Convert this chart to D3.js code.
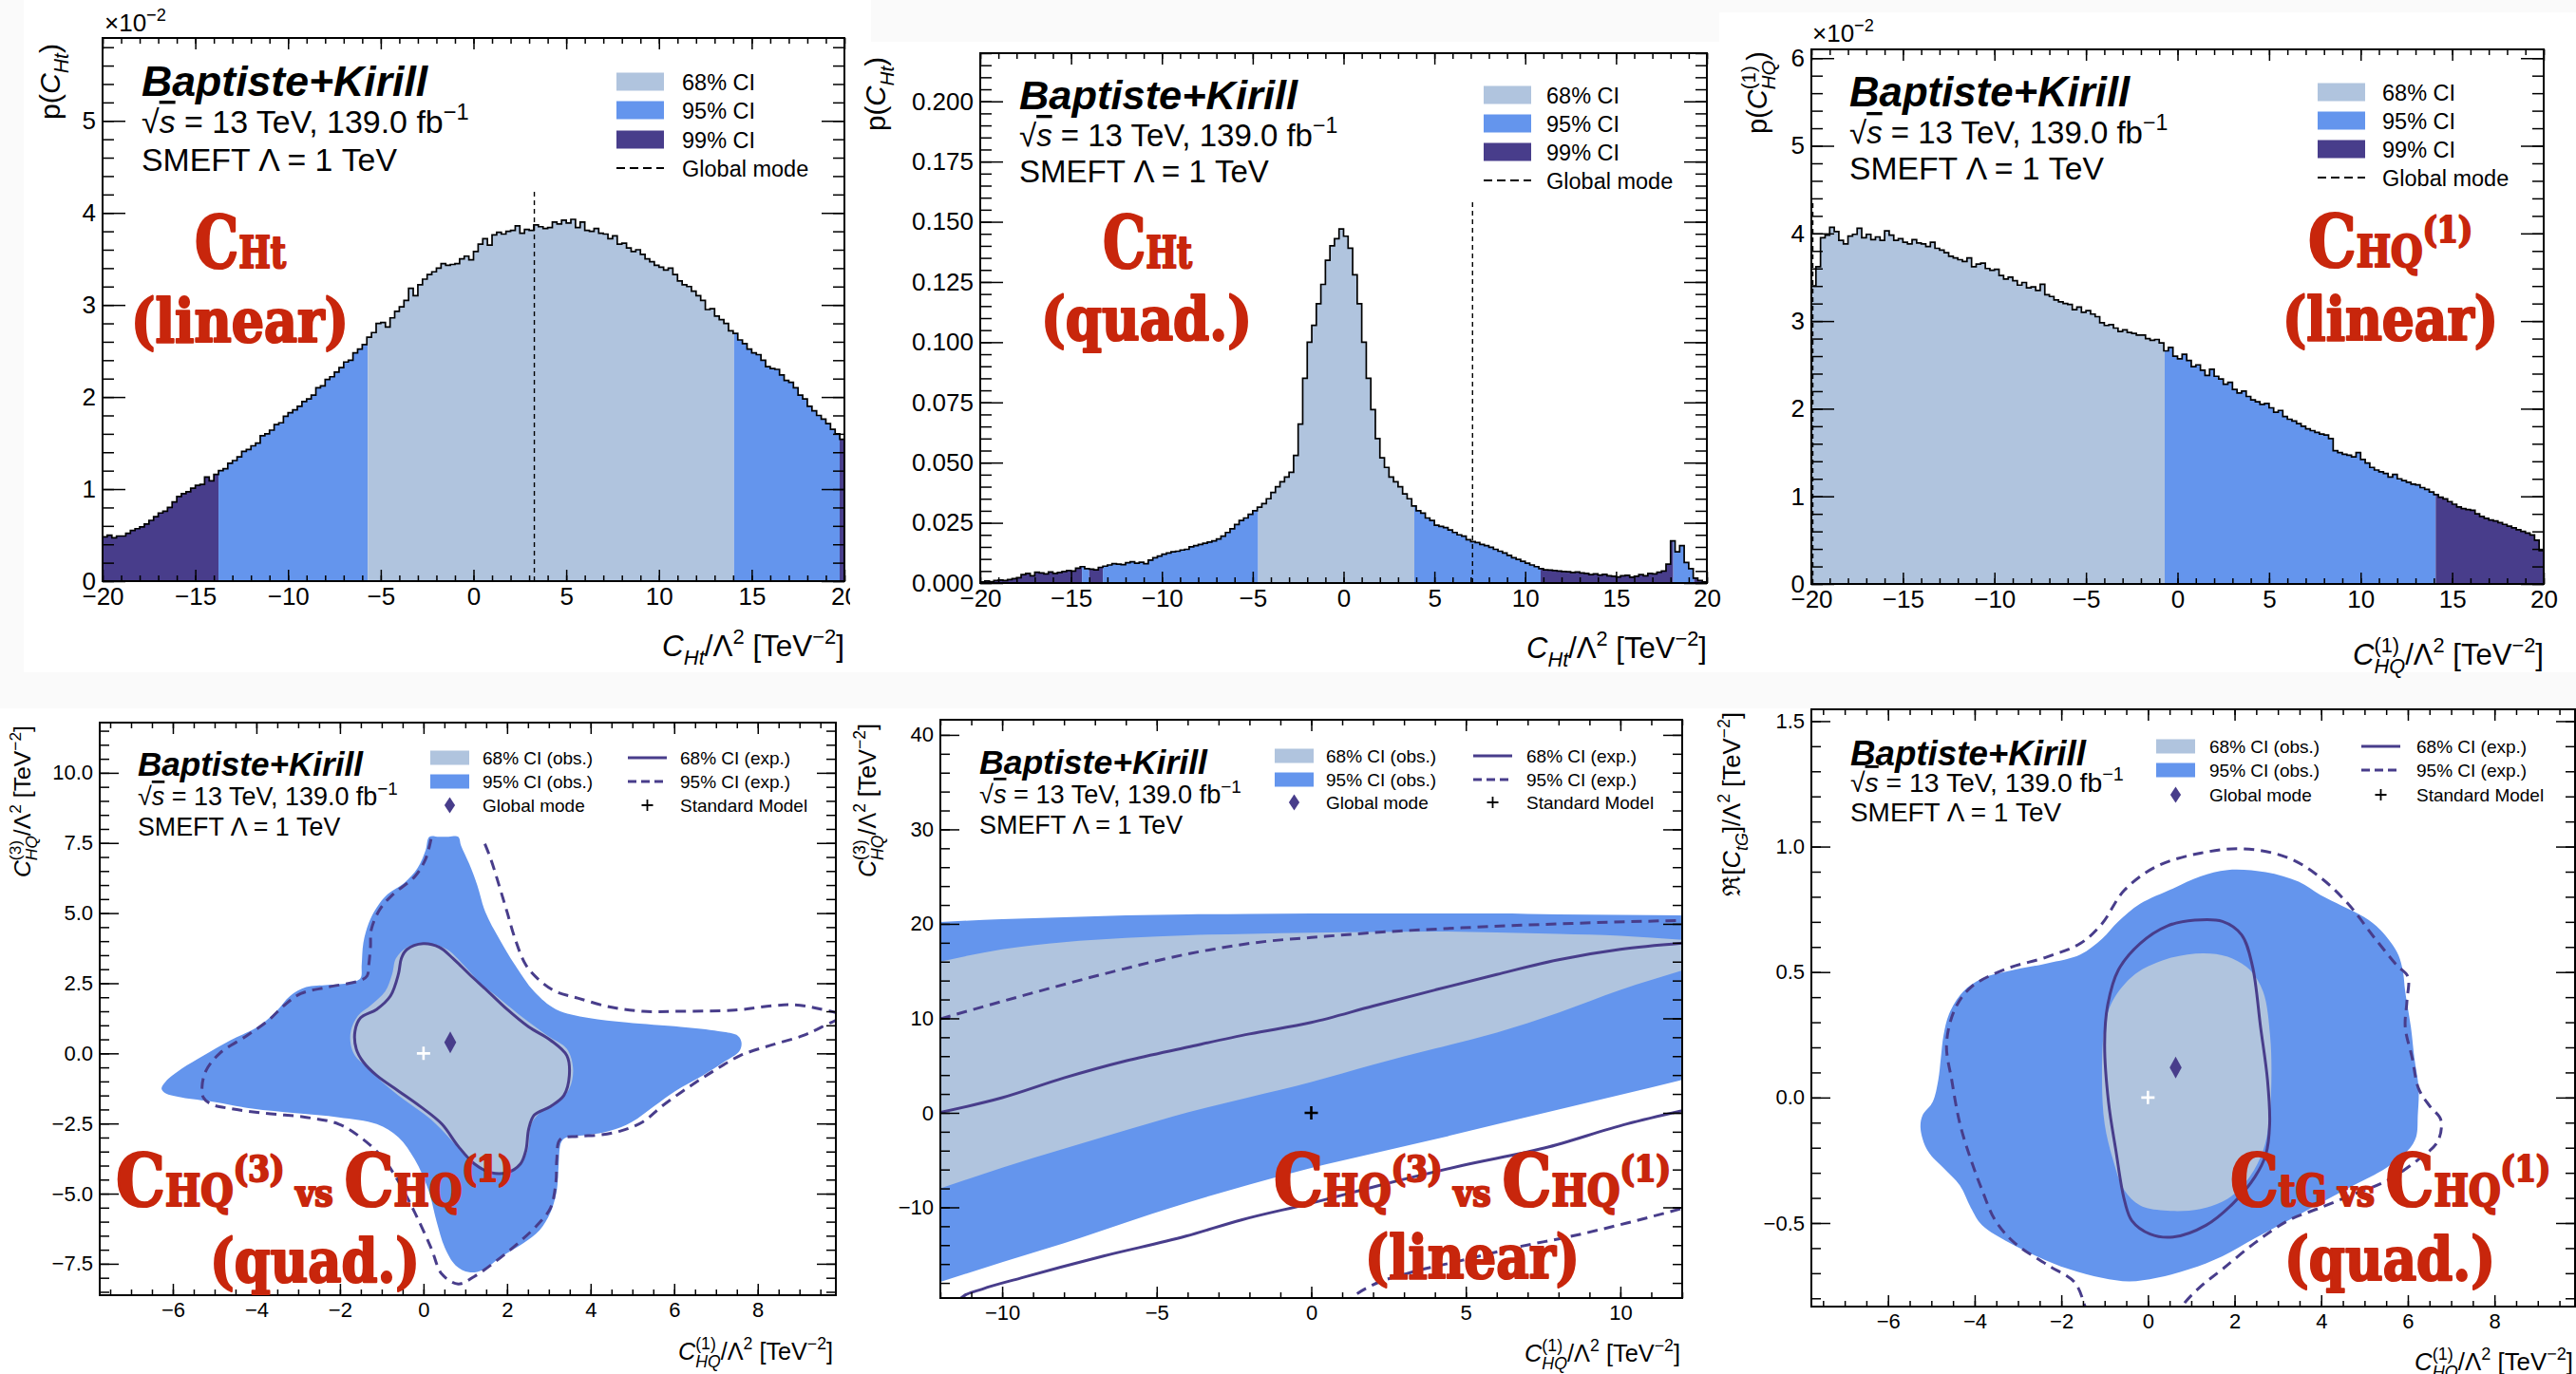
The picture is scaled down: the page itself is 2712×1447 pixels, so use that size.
<!DOCTYPE html>
<html><head><meta charset="utf-8">
<script src="https://cdn.jsdelivr.net/npm/d3@7"></script>
<style>
body{margin:0;background:#fff}
svg text{font-family:'Liberation Sans',Arial,Helvetica,sans-serif;fill:#000}
</style>
</head><body><script>
const W = 2712, H = 1447;
const C68 = "#b0c4de", C95 = "#6495ed", C99 = "#483d8b", LINE = "#483d8b", RED = "#c8260c";
const ciColor = {68: C68, 95: C95, 99: C99};

// ---- 1D posteriors: 0.25-wide bins from -20 to 20 ----
const binLo = -20, binW = 0.25;
// C_Ht (linear), in units of 1e-2
const chtLinear = [
  0.48,0.50,0.47,0.49, 0.49,0.52,0.55,0.57, 0.59,0.62,0.66,0.70, 0.74,0.76,0.80,0.86,
  0.92,0.95,0.97,1.01, 1.04,1.05,1.13,1.09, 1.16,1.20,1.22,1.28, 1.31,1.35,1.41,1.43,
  1.47,1.50,1.58,1.60, 1.64,1.70,1.72,1.79, 1.83,1.86,1.90,1.95, 1.98,2.02,2.10,2.12,
  2.19,2.22,2.27,2.32, 2.38,2.40,2.48,2.52, 2.57,2.65,2.70,2.80, 2.81,2.76,2.86,2.93,
  2.98,3.05,3.18,3.10, 3.22,3.28,3.33,3.36, 3.40,3.45,3.43,3.44, 3.45,3.50,3.53,3.49,
  3.58,3.66,3.72,3.65, 3.76,3.79,3.77,3.80, 3.81,3.86,3.78,3.82, 3.81,3.87,3.85,3.83,
  3.84,3.90,3.88,3.92, 3.89,3.93,3.84,3.90, 3.81,3.80,3.83,3.78, 3.77,3.72,3.75,3.66,
  3.67,3.62,3.58,3.60, 3.55,3.50,3.47,3.43, 3.41,3.38,3.40,3.33, 3.26,3.22,3.20,3.15,
  3.10,3.05,2.95,2.96, 2.88,2.84,2.80,2.72, 2.69,2.62,2.58,2.52, 2.48,2.46,2.40,2.33,
  2.31,2.30,2.24,2.18, 2.16,2.10,2.02,1.98, 1.90,1.85,1.80,1.76, 1.71,1.65,1.60,1.54
];
// C_Ht (quadratic)
const chtQuad = [
  0.0005,0.0008,0.0006,0.0010, 0.0012,0.0010,0.0014,0.0018, 0.0022,0.0035,0.0040,0.0030, 0.0045,0.0042,0.0038,0.0046,
  0.0040,0.0044,0.0048,0.0052, 0.0050,0.0062,0.0068,0.0060, 0.0058,0.0055,0.0065,0.0070, 0.0075,0.0080,0.0078,0.0076,
  0.0084,0.0088,0.0082,0.0086, 0.0080,0.0095,0.0105,0.0112, 0.0120,0.0125,0.0130,0.0132, 0.0137,0.0140,0.0150,0.0155,
  0.0160,0.0165,0.0170,0.0175, 0.0183,0.0195,0.0210,0.0225, 0.0243,0.0260,0.0270,0.0285, 0.0300,0.0315,0.0330,0.0350,
  0.0376,0.0400,0.0420,0.0440, 0.046,0.053,0.066,0.085, 0.100,0.107,0.116,0.124, 0.134,0.140,0.143,0.147,
  0.144,0.139,0.128,0.116, 0.100,0.085,0.072,0.060, 0.052,0.048,0.044,0.042, 0.040,0.037,0.035,0.032,
  0.030,0.029,0.027,0.026, 0.024,0.0235,0.023,0.022, 0.021,0.020,0.0195,0.018, 0.0172,0.0168,0.0160,0.0155,
  0.0148,0.0140,0.0132,0.0125, 0.0115,0.0105,0.0098,0.0090, 0.0082,0.0075,0.0068,0.0060, 0.0055,0.0054,0.0052,0.0050,
  0.0048,0.0047,0.0044,0.0046, 0.0042,0.0040,0.0035,0.0038, 0.0033,0.0036,0.0030,0.0028, 0.0025,0.0030,0.0032,0.0024,
  0.0028,0.0035,0.0030,0.0040, 0.0038,0.0045,0.0050,0.0078, 0.0175,0.0130,0.0155,0.0085, 0.0060,0.0020,0.0010,0.0005
];
// C_HQ^(1) (linear), in units of 1e-2
const chq1Linear = [
  3.40,3.62,3.95,3.98, 4.07,4.02,3.92,3.88, 3.97,3.99,4.06,3.95, 3.99,3.93,3.96,3.92,
  4.03,3.98,3.92,3.94, 3.90,3.88,3.93,3.89, 3.88,3.85,3.90,3.83, 3.81,3.78,3.74,3.72,
  3.70,3.68,3.72,3.62, 3.65,3.66,3.60,3.58, 3.59,3.52,3.48,3.50, 3.46,3.41,3.44,3.38,
  3.39,3.35,3.42,3.30, 3.28,3.24,3.22,3.20, 3.19,3.13,3.16,3.10, 3.12,3.08,3.05,2.98,
  2.95,2.96,2.92,2.88, 2.90,2.87,2.86,2.84, 2.84,2.80,2.78,2.79, 2.75,2.66,2.70,2.60,
  2.57,2.62,2.55,2.48, 2.50,2.44,2.38,2.45, 2.37,2.34,2.28,2.30, 2.22,2.18,2.20,2.14,
  2.10,2.08,2.05,2.06, 2.01,1.96,1.98,1.91, 1.88,1.86,1.83,1.80, 1.77,1.75,1.73,1.71,
  1.70,1.66,1.52,1.50, 1.48,1.47,1.45,1.50, 1.42,1.38,1.33,1.30, 1.28,1.26,1.22,1.25,
  1.20,1.18,1.16,1.14, 1.13,1.10,1.08,1.05, 1.02,0.99,0.97,0.94, 0.91,0.88,0.86,0.85,
  0.84,0.80,0.77,0.75, 0.73,0.72,0.70,0.68, 0.66,0.64,0.62,0.60, 0.58,0.56,0.50,0.38
];
// credible-interval segments [from, to, level]
const chtLinearCI = [[-20,-13.75,99],[-13.75,-5.7,95],[-5.7,14.05,68],[14.05,19.75,95],[19.75,20,99]];
const chtQuadCI = [[-20,-14.4,99],[-14.4,-14.0,95],[-14.0,-13.25,99],[-13.25,-4.7,95],[-4.7,3.9,68],
                   [3.9,10.85,95],[10.85,18.15,99],[18.15,19.3,95],[19.3,20,99]];
const chq1LinearCI = [[-20,-0.7,68],[-0.7,14.1,95],[14.1,20,99]];
// global mode [position, height of marker line]
const chtLinearMode = [3.28, 4.24];
const chtQuadMode = [7.1, 0.1586];
const chq1LinearMode = [-19.92, 4.38];

// tick values
const histXTicks = [-20,-15,-10,-5,0,5,10,15,20];
const chtLinearYTicks = [0,1,2,3,4,5];
const chtQuadYTicks = [0,0.025,0.05,0.075,0.1,0.125,0.15,0.175,0.2];
const chq1LinearYTicks = [0,1,2,3,4,5,6];
const quadXTicks = [-6,-4,-2,0,2,4,6,8];
const chq3QuadYTicks = [-7.5,-5,-2.5,0,2.5,5,7.5,10];
const linXTicks = [-10,-5,0,5,10];
const chq3LinYTicks = [-10,0,10,20,30,40];
const ctgYTicks = [-0.5,0,0.5,1,1.5];

// ---- 2D contours, C_HQ^(3) vs C_HQ^(1) (quadratic) ----
const chq3QuadObs95 = [[0.14,7.72],[0.05,7.24],[-0.14,6.61],[-0.47,6.06],[-0.86,5.67],[-1.12,5.20],[-1.31,4.65],[-1.44,3.94],
 [-1.48,3.15],[-1.51,2.68],[-1.77,2.52],[-2.29,2.44],[-2.81,2.36],[-3.19,2.05],[-3.52,1.50],[-3.97,0.94],[-4.62,0.47],
 [-5.27,-0.08],[-5.79,-0.55],[-6.18,-1.02],[-6.27,-1.26],[-6.18,-1.42],[-5.79,-1.57],[-5.01,-1.73],[-4.10,-1.97],[-3.06,-2.13],
 [-2.03,-2.28],[-1.12,-2.52],[-0.60,-2.99],[-0.21,-3.78],[0.12,-4.88],[0.31,-5.98],[0.51,-6.93],[0.77,-7.56],[1.09,-7.80],
 [1.42,-7.72],[1.87,-7.24],[2.39,-6.77],[2.78,-6.30],[3.04,-5.67],[3.19,-4.88],[3.23,-4.09],[3.30,-3.15],[3.43,-2.99],
 [3.95,-2.91],[4.47,-2.76],[4.99,-2.44],[5.51,-1.89],[6.03,-1.34],[6.68,-0.79],[7.19,-0.31],[7.56,0.08],[7.61,0.39],
 [7.52,0.63],[7.06,0.79],[6.16,0.94],[4.86,1.10],[3.95,1.26],[3.17,1.57],[2.65,2.20],[2.19,3.15],[1.81,4.09],[1.48,5.04],
 [1.29,5.98],[1.09,6.77],[0.90,7.40],[0.83,7.72],[0.60,7.72],[0.37,7.72]];
const chq3QuadObs68 = [[-0.08,3.91],[-0.40,3.78],[-0.66,3.39],[-0.75,2.83],[-0.92,2.20],[-1.25,1.73],[-1.57,1.34],[-1.74,0.79],
 [-1.74,0.31],[-1.64,-0.08],[-1.38,-0.47],[-0.99,-1.02],[-0.47,-1.65],[0.18,-2.36],[0.70,-3.15],[1.09,-3.78],[1.48,-4.17],
 [1.87,-4.25],[2.26,-4.09],[2.49,-3.46],[2.58,-2.52],[2.78,-2.13],[3.17,-1.81],[3.49,-1.26],[3.58,-0.55],[3.43,0.16],
 [2.97,0.63],[2.39,1.26],[1.87,1.89],[1.35,2.52],[0.96,3.15],[0.57,3.70],[0.18,3.91]];
const chq3QuadExp68 = [[-0.01,3.91],[-0.40,3.70],[-0.53,3.39],[-0.60,2.83],[-0.79,2.05],[-1.12,1.57],[-1.51,1.26],[-1.64,0.79],
 [-1.61,0.16],[-1.44,-0.31],[-1.12,-0.79],[-0.60,-1.34],[-0.08,-1.89],[0.44,-2.52],[0.83,-3.31],[1.22,-3.94],[1.61,-4.25],
 [2.00,-4.25],[2.32,-3.94],[2.45,-3.46],[2.52,-2.68],[2.65,-2.20],[3.04,-1.89],[3.36,-1.50],[3.49,-0.79],[3.43,-0.08],
 [3.04,0.47],[2.52,0.94],[2.00,1.57],[1.55,2.20],[1.09,2.83],[0.70,3.39],[0.38,3.78]];
const chq3QuadExp95 = [[0.18,7.64],[0.05,6.93],[-0.21,6.30],[-0.73,5.67],[-1.05,5.12],[-1.25,4.41],[-1.27,3.78],[-1.31,3.15],
 [-1.35,2.76],[-1.51,2.60],[-2.29,2.36],[-2.94,2.13],[-3.32,1.73],[-3.71,1.18],[-4.23,0.63],[-4.88,0.00],[-5.21,-0.63],
 [-5.30,-1.18],[-5.27,-1.57],[-5.08,-1.81],[-4.62,-1.97],[-3.84,-2.13],[-2.81,-2.28],[-2.03,-2.52],[-1.51,-2.99],[-0.99,-3.70],
 [-0.60,-4.57],[-0.21,-5.67],[0.18,-6.93],[0.44,-7.87],[0.83,-8.22],[1.22,-7.95],[1.74,-7.40],[2.26,-6.77],[2.71,-6.14],
 [3.04,-5.51],[3.17,-4.57],[3.19,-3.78],[3.27,-3.07],[3.69,-2.96],[4.21,-2.91],[4.73,-2.76],[5.25,-2.44],[5.70,-1.89],
 [6.29,-1.26],[6.94,-0.63],[7.58,-0.08],[8.36,0.31],[9.08,0.63],[9.53,0.94],[9.99,1.34],[9.40,1.61],[8.88,1.73],[8.36,1.70],
 [7.45,1.54],[6.16,1.50],[5.25,1.50],[4.47,1.65],[3.69,1.97],[3.17,2.20],[2.78,2.60],[2.45,3.15],[2.19,4.09],[2.00,5.04],
 [1.81,5.98],[1.61,6.93],[1.42,7.64]];
const chq3QuadMode = [0.64, 0.39];
const standardModel = [0, 0];

// ---- 2D bands, C_HQ^(3) vs C_HQ^(1) (linear) ----
const bandX = [-12,-10,-8,-6,-4,-2,0,2,4,6,8,10,12];
const linObs95Upper = [20.2,20.5,20.7,20.9,21.0,21.05,21.1,21.1,21.1,21.1,21.0,20.95,20.9];
const linObs95Lower = [-17.9,-15.8,-13.8,-11.6,-9.5,-7.6,-5.83,-4.3,-2.8,-1.2,0.35,1.9,3.5];
const linObs68Upper = [16.0,17.3,18.05,18.5,18.8,18.95,19.07,19.15,19.2,19.1,18.95,18.75,18.3];
const linObs68Lower = [-8.0,-5.8,-3.8,-1.85,0.05,1.65,3.26,5.1,6.8,8.5,10.6,13.0,15.06];
const linExp68Upper = [[-12,0.05],[-10,1.6],[-8,3.7],[-6,5.5],[-4,6.95],[-2,8.35],[0,9.56],[2,11.3],[4,13.0],[6,14.65],[8,16.2],[10,17.3],[12,17.95]];
const linExp68Lower = [[-11.55,-20.2],[-11.27,-19.44],[-10.64,-18.65],[-9.39,-17.48],[-6.72,-15.15],[-4.05,-13.05],[-2.26,-11.33],
 [0,-9.56],[2.19,-7.69],[4.87,-5.59],[7.54,-3.73],[10.21,-1.17],[12,0.23]];
const linExp95Upper = [[-12,9.95],[-9.39,12.35],[-6.72,14.69],[-4.05,16.78],[-1.37,18.18],[0,18.55],[2.19,19.11],[4.87,19.58],[8.43,20.05],[12,20.37]];
const linExp95Lower = [[1.05,-20.3],[1.30,-19.58],[2.01,-18.18],[3.08,-17.02],[4.87,-15.62],[6.65,-14.22],[8.43,-13.05],[10.21,-11.66],[12,-10.12]];

// ---- 2D contours, Re[C_tG] vs C_HQ^(1) (quadratic) ----
const ctgObs95 = [[1.84,0.907],[2.72,0.898],[3.48,0.860],[3.98,0.807],[4.49,0.763],[4.99,0.719],[5.37,0.667],[5.75,0.579],
 [5.88,0.509],[5.94,0.421],[6.07,0.281],[6.15,0.158],[6.25,0.035],[6.23,-0.070],[6.19,-0.158],[6.00,-0.211],[5.50,-0.281],
 [4.74,-0.351],[3.98,-0.421],[3.23,-0.491],[2.47,-0.561],[1.72,-0.632],[0.96,-0.684],[0.20,-0.719],[-0.43,-0.733],[-1.06,-0.719],
 [-1.82,-0.684],[-2.57,-0.632],[-3.20,-0.579],[-3.83,-0.509],[-4.09,-0.439],[-4.34,-0.351],[-4.72,-0.281],[-5.09,-0.211],
 [-5.25,-0.123],[-5.20,-0.070],[-4.97,-0.018],[-4.84,0.070],[-4.78,0.158],[-4.72,0.246],[-4.59,0.333],[-4.27,0.421],
 [-3.83,0.474],[-3.08,0.509],[-2.32,0.535],[-1.56,0.570],[-1.06,0.632],[-0.68,0.702],[-0.18,0.772],[0.58,0.833],[1.21,0.881]];
const ctgObs68 = [[1.27,0.575],[1.84,0.561],[2.35,0.509],[2.66,0.421],[2.82,0.246],[2.85,0.070],[2.79,-0.105],[2.66,-0.211],
 [2.35,-0.316],[1.84,-0.404],[1.21,-0.444],[0.45,-0.451],[-0.18,-0.430],[-0.55,-0.368],[-0.81,-0.246],[-1.00,-0.105],
 [-1.06,0.070],[-1.00,0.281],[-0.81,0.386],[-0.30,0.491],[0.45,0.553]];
const ctgExp68 = [[1.08,0.707],[1.72,0.702],[2.16,0.649],[2.41,0.526],[2.60,0.281],[2.76,0.070],[2.81,-0.105],[2.72,-0.228],
 [2.47,-0.316],[1.97,-0.421],[1.34,-0.509],[0.58,-0.556],[0.05,-0.544],[-0.37,-0.491],[-0.55,-0.404],[-0.74,-0.211],
 [-0.91,-0.018],[-1.00,0.211],[-0.93,0.368],[-0.68,0.509],[-0.18,0.614],[0.45,0.684]];
const ctgExp95 = [[-1.40,-0.86],[-1.46,-0.828],[-1.69,-0.737],[-2.32,-0.667],[-3.08,-0.579],[-3.52,-0.491],[-3.83,-0.368],[-4.09,-0.246],
 [-4.34,-0.105],[-4.53,0.070],[-4.65,0.211],[-4.46,0.351],[-4.09,0.439],[-3.33,0.509],[-2.32,0.561],[-1.56,0.614],
 [-1.06,0.693],[-0.55,0.825],[0.20,0.921],[1.21,0.974],[2.22,0.991],[3.23,0.956],[3.98,0.877],[4.62,0.772],[5.25,0.632],
 [5.75,0.526],[6.00,0.482],[5.98,0.386],[5.94,0.281],[6.10,0.158],[6.25,0.035],[6.51,-0.035],[6.76,-0.088],[6.69,-0.175],
 [6.25,-0.246],[5.50,-0.333],[4.74,-0.386],[3.98,-0.439],[3.23,-0.491],[2.47,-0.579],[1.72,-0.684],[1.21,-0.754],[0.81,-0.828],[0.75,-0.86]];
const ctgMode = [0.64, 0.12];

// ============================================================
const svg = d3.select("body").append("svg").attr("width", W).attr("height", H).style("display", "block");
const defs = svg.append("defs");

// faint separators between the six sub-figures
svg.append("rect").attr("x", 0).attr("y", 708).attr("width", W).attr("height", 38).attr("fill", "#fafafa");
svg.append("rect").attr("x", 0).attr("y", 0).attr("width", 25).attr("height", 708).attr("fill", "#fafafa");
svg.append("rect").attr("x", 917).attr("y", 0).attr("width", 893).attr("height", 44).attr("fill", "#fafafa");
svg.append("rect").attr("x", 1810).attr("y", 0).attr("width", 902).attr("height", 13).attr("fill", "#fafafa");

// text with italic / sub / sup / stacked pieces
function rich(text, segs, size) {
  let off = 0, prev = null;
  segs.forEach(s => {
    const sc = s.p ? (s.sc || 0.7) : 1;
    const target = s.p === "sub" ? 0.3 * size : s.p === "sup" ? -0.42 * size : 0;
    const ts = text.append("tspan").text(s.t).attr("font-size", size * sc).attr("dy", target - off);
    if (s.i) ts.attr("font-style", "italic");
    if (s.ol) ts.style("text-decoration", "overline");
    if (s.stack && prev) ts.attr("dx", -prev.node().getComputedTextLength());
    off = target; prev = ts;
  });
  return text;
}
// build rich text, then rescale it so its rendered length equals `len`
function fitRich(text, segs, size, len) {
  rich(text, segs, size);
  if (len) {
    const w = text.node().getBBox().width;
    if (w > 0 && Math.abs(len / w - 1) > 0.02) {
      text.selectAll("tspan").remove();
      rich(text, segs, size * len / w);
    }
  }
  return text;
}
function fitPlain(text, size, len) {
  text.attr("font-size", size);
  if (len) {
    const w = text.node().getBBox().width;
    if (w > 0) text.attr("font-size", size * len / w);
  }
  return text;
}

function frameAxes(g, x, y, o) {
  const [l, r] = x.range(), [b, t] = y.range();
  const mk = (fn, sc, vals, len, fmt, tr) => {
    const a = g.append("g").attr("transform", tr)
      .call(fn(sc).tickValues(vals).tickSize(-len).tickSizeOuter(0).tickPadding(o.pad)
        .tickFormat(fmt || (() => "")));
    a.select(".domain").remove();
    a.selectAll("line").attr("stroke", "#000").attr("stroke-width", 1.5);
    a.selectAll("text").attr("font-size", o.fs).attr("fill", "#000")
      .style("font-family", "'Liberation Sans',Arial,sans-serif");
    return a;
  };
  mk(d3.axisBottom, x, o.xMin, o.xLen / 2, null, `translate(0,${b})`);
  mk(d3.axisBottom, x, o.xMaj, o.xLen, o.xFmt, `translate(0,${b})`);
  mk(d3.axisTop, x, o.xMin, o.xLen / 2, null, `translate(0,${t})`);
  mk(d3.axisTop, x, o.xMaj, o.xLen, null, `translate(0,${t})`);
  mk(d3.axisLeft, y, o.yMin, o.yLen / 2, null, `translate(${l},0)`);
  mk(d3.axisLeft, y, o.yMaj, o.yLen, o.yFmt, `translate(${l},0)`);
  mk(d3.axisRight, y, o.yMin, o.yLen / 2, null, `translate(${r},0)`);
  mk(d3.axisRight, y, o.yMaj, o.yLen, null, `translate(${r},0)`);
  g.append("rect").attr("x", l).attr("y", t).attr("width", r - l).attr("height", b - t)
    .attr("fill", "none").attr("stroke", "#000").attr("stroke-width", 2);
}

// header block; lens = rendered widths of the three lines
function header(g, x0, ys, big, small, lens) {
  fitPlain(g.append("text").attr("x", x0).attr("y", ys[0])
    .attr("font-weight", "bold").attr("font-style", "italic").text("Baptiste+Kirill"), big, lens[0]);
  fitRich(g.append("text").attr("x", x0).attr("y", ys[1]), [
    {t: "\u221A"}, {t: "s", i: true, ol: true}, {t: " = 13 TeV, 139.0 fb"}, {t: "\u22121", p: "sup"}], small, lens[1]);
  fitPlain(g.append("text").attr("x", x0).attr("y", ys[2]).text("SMEFT \u039B = 1 TeV"), small, lens[2]);
}

function redLabel(g, x0, y0, segs, size, len) {
  const t = g.append("text").attr("x", x0).attr("y", y0)
    .attr("textLength", len).attr("lengthAdjust", "spacingAndGlyphs")
    .style("font-family", "'DejaVu Serif Condensed','DejaVu Serif',serif")
    .style("font-stretch", "condensed").attr("font-weight", "bold").style("fill", RED)
    .style("stroke", RED).style("stroke-width", 2.2).style("stroke-linejoin", "round");
  let off = 0;
  segs.forEach(s => {
    const target = s.up ? -s.up : 0;
    t.append("tspan").text(s.t).attr("font-size", s.s || size).attr("dy", target - off);
    off = target;
  });
}

// ---------------- histogram panels ----------------
function histPanel(c) {
  const g = svg.append("g");
  if (c.clip) {
    defs.append("clipPath").attr("id", c.id + "pc").append("rect")
      .attr("x", c.clip[0]).attr("y", c.clip[1]).attr("width", c.clip[2]).attr("height", c.clip[3]);
    g.attr("clip-path", `url(#${c.id}pc)`);
  }
  const x = d3.scaleLinear().domain([-20, 20]).range([c.l, c.r]);
  const y = d3.scaleLinear().domain([0, c.ymax]).range([c.b, c.t]);
  const pts = c.values.map((v, i) => [binLo + i * binW, v]);
  pts.push([binLo + c.values.length * binW, c.values[c.values.length - 1]]);
  const area = d3.area().curve(d3.curveStepAfter).x(d => x(d[0])).y0(y(0)).y1(d => y(d[1]));
  c.ci.forEach((s, k) => {
    const id = c.id + "ci" + k;
    defs.append("clipPath").attr("id", id).append("rect")
      .attr("x", x(s[0])).attr("y", c.t).attr("width", x(s[1]) - x(s[0])).attr("height", c.b - c.t);
    g.append("path").attr("d", area(pts)).attr("fill", ciColor[s[2]])
      .attr("clip-path", `url(#${id})`).attr("shape-rendering", "crispEdges");
  });
  const line = d3.line().curve(d3.curveStepAfter).x(d => x(d[0])).y(d => y(d[1]));
  g.append("path").attr("d", line(pts)).attr("fill", "none").attr("stroke", "#000").attr("stroke-width", 1.7);
  g.append("line").attr("x1", x(c.mode[0])).attr("x2", x(c.mode[0]))
    .attr("y1", y(0)).attr("y2", y(c.mode[1])).attr("stroke", "#000").attr("stroke-width", 1.4)
    .attr("stroke-dasharray", "5,4");

  frameAxes(g, x, y, {xMaj: histXTicks, xMin: d3.range(-20, 21, 1), xLen: 12, xFmt: d3.format("d"),
    yMaj: c.yTicks, yMin: c.yMinor, yLen: 24, yFmt: c.yFmt, pad: 7, fs: 26});

  if (c.exp) rich(g.append("text").attr("x", c.exp[0]).attr("y", c.exp[1]),
    [{t: "\u00D710"}, {t: "\u22122", p: "sup"}], 26);

  fitRich(g.append("text").attr("transform", `translate(${c.ytx},${c.yty}) rotate(-90)`).attr("text-anchor", "end"),
    c.ytitle, 28, c.ylen);
  fitRich(g.append("text").attr("x", c.r).attr("y", c.xty).attr("text-anchor", "end"), c.xtitle, 28, c.xlen);

  header(g, c.hx, c.hy, 44, 33, c.hlen);

  // legend
  const L = c.leg;
  ["68% CI", "95% CI", "99% CI"].forEach((lab, i) => {
    g.append("rect").attr("x", L.x).attr("y", L.rows[i] - 9.5).attr("width", 50).attr("height", 19)
      .attr("fill", [C68, C95, C99][i]);
    g.append("text").attr("x", L.tx).attr("y", L.rows[i] + 8.5).attr("font-size", 23.5).text(lab);
  });
  g.append("line").attr("x1", L.x).attr("x2", L.x + 50).attr("y1", L.rows[3]).attr("y2", L.rows[3])
    .attr("stroke", "#000").attr("stroke-width", 2.2).attr("stroke-dasharray", "9,5");
  g.append("text").attr("x", L.tx).attr("y", L.rows[3] + 8.5).attr("font-size", 23.5).text("Global mode");

  c.red.forEach(r => redLabel(g, r.x, r.y, r.segs, r.size, r.len));
}

const sub = (t) => ({t, p: "sub", i: true});
const supN = (t) => ({t, p: "sup"});
const stackSub = (t) => ({t, p: "sub", i: true, stack: true});
const titleHt = [{t: "C", i: true}, sub("Ht"), {t: "/\u039B"}, supN("2"), {t: " [TeV"}, supN("\u22122"), {t: "]"}];
const titleHQ1 = [{t: "C", i: true}, supN("(1)"), stackSub("HQ"), {t: "/\u039B"}, supN("2"), {t: " [TeV"}, supN("\u22122"), {t: "]"}];

histPanel({id: "h1", l: 108, r: 889, t: 40, b: 612, ymax: 5.9, values: chtLinear, ci: chtLinearCI, mode: chtLinearMode,
  yTicks: chtLinearYTicks, yMinor: d3.range(0, 30).map(i => i * 0.2), yFmt: d3.format("d"), clip: [0, 0, 895, 708],
  exp: [110, 33], ytx: 63, yty: 46, xty: 691, ylen: 80, xlen: 192,
  ytitle: [{t: "p("}, {t: "C", i: true}, sub("Ht"), {t: ")"}], xtitle: titleHt,
  hx: 149, hy: [101, 140, 180], hlen: [302, 345, 269], leg: {x: 649, tx: 718, rows: [86, 116, 147, 177]},
  red: [{x: 205, y: 282, size: 76, len: 96, segs: [{t: "C"}, {t: "Ht", s: 46}]},
        {x: 138, y: 360, size: 64, len: 229, segs: [{t: "(linear)"}]}]});

histPanel({id: "h2", l: 1032, r: 1797, t: 56, b: 614, ymax: 0.22, values: chtQuad, ci: chtQuadCI, mode: chtQuadMode,
  yTicks: chtQuadYTicks, yMinor: d3.range(0, 45).map(i => i * 0.005), yFmt: d3.format(".3f"),
  ytx: 932, yty: 60, xty: 693, ylen: 78, xlen: 190,
  ytitle: [{t: "p("}, {t: "C", i: true}, sub("Ht"), {t: ")"}], xtitle: titleHt,
  hx: 1073, hy: [115, 154, 192], hlen: [294, 338, 263], leg: {x: 1562, tx: 1628, rows: [100, 130, 160, 190]},
  red: [{x: 1161, y: 282, size: 76, len: 94, segs: [{t: "C"}, {t: "Ht", s: 46}]},
        {x: 1096, y: 358, size: 64, len: 222, segs: [{t: "(quad.)"}]}]});

histPanel({id: "h3", l: 1907, r: 2678, t: 52, b: 615, ymax: 6.1, values: chq1Linear, ci: chq1LinearCI, mode: chq1LinearMode,
  yTicks: chq1LinearYTicks, yMinor: d3.range(0, 31).map(i => i * 0.2), yFmt: d3.format("d"),
  exp: [1908, 44], ytx: 1860, yty: 54, xty: 700, ylen: 87, xlen: 201,
  ytitle: [{t: "p("}, {t: "C", i: true}, supN("(1)"), stackSub("HQ"), {t: ")"}], xtitle: titleHQ1,
  hx: 1947, hy: [112, 151, 189], hlen: [296, 341, 268], leg: {x: 2440, tx: 2508, rows: [97, 127, 157, 187]},
  red: [{x: 2430, y: 281, size: 76, len: 173, segs: [{t: "C"}, {t: "HQ", s: 46}, {t: "(1)", s: 38, up: 26}]},
        {x: 2403, y: 358, size: 64, len: 227, segs: [{t: "(linear)"}]}]});

// ---------------- 2D panels ----------------
function panel2D(c) {
  const g = svg.append("g");
  const x = d3.scaleLinear().domain(c.xd).range([c.l, c.r]);
  const y = d3.scaleLinear().domain(c.yd).range([c.b, c.t]);
  defs.append("clipPath").attr("id", c.id + "f").append("rect")
    .attr("x", c.l).attr("y", c.t).attr("width", c.r - c.l).attr("height", c.b - c.t);
  const inner = g.append("g").attr("clip-path", `url(#${c.id}f)`);
  return {g, inner, x, y};
}
function finish2D(P, c) {
  const {g, x, y} = P;
  frameAxes(g, x, y, {xMaj: c.xTicks, xMin: c.xMinor, xLen: 12, xFmt: d3.format("d"),
    yMaj: c.yTicks, yMin: c.yMinor, yLen: 20, yFmt: c.yFmt, pad: 7, fs: 22});
  fitRich(g.append("text").attr("transform", `translate(${c.ytx},${c.yty}) rotate(-90)`).attr("text-anchor", "end"),
    c.ytitle, 24, c.ylen);
  fitRich(g.append("text").attr("x", c.xtx).attr("y", c.xty).attr("text-anchor", "end"), titleHQ1, 24, c.xlen);
  header(g, c.hx, c.hy, 36, 26, c.hlen);
  const L = c.leg, fs = 19;
  g.append("rect").attr("x", L.bx).attr("y", L.rows[0] - 7.5).attr("width", 41).attr("height", 15).attr("fill", C68);
  g.append("rect").attr("x", L.bx).attr("y", L.rows[1] - 7.5).attr("width", 41).attr("height", 15).attr("fill", C95);
  diamond(g, L.bx + 20.5, L.rows[2], 5.6, 8.5);
  g.append("line").attr("x1", L.lx).attr("x2", L.lx + 41).attr("y1", L.rows[0]).attr("y2", L.rows[0])
    .attr("stroke", LINE).attr("stroke-width", 3);
  g.append("line").attr("x1", L.lx).attr("x2", L.lx + 41).attr("y1", L.rows[1]).attr("y2", L.rows[1])
    .attr("stroke", LINE).attr("stroke-width", 3).attr("stroke-dasharray", "9,5");
  cross(g, L.lx + 20.5, L.rows[2], 6, "#000", 1.8);
  [["68% CI (obs.)", "68% CI (exp.)"], ["95% CI (obs.)", "95% CI (exp.)"], ["Global mode", "Standard Model"]]
    .forEach((pair, i) => {
      g.append("text").attr("x", L.tx).attr("y", L.rows[i] + 7).attr("font-size", fs).text(pair[0]);
      g.append("text").attr("x", L.ltx).attr("y", L.rows[i] + 7).attr("font-size", fs).text(pair[1]);
    });
  c.red.forEach(r => redLabel(g, r.x, r.y, r.segs, r.size, r.len));
}
function diamond(g, cx, cy, w, h) {
  g.append("path").attr("d", `M${cx},${cy - h}L${cx + w},${cy}L${cx},${cy + h}L${cx - w},${cy}Z`).attr("fill", LINE);
}
function cross(g, cx, cy, s, col, sw) {
  g.append("path").attr("d", `M${cx - s},${cy}H${cx + s}M${cx},${cy - s}V${cy + s}`)
    .attr("stroke", col).attr("stroke-width", sw).attr("fill", "none");
}
const closedCurve = (P) => d3.line().curve(d3.curveCatmullRomClosed.alpha(0.5)).x(d => P.x(d[0])).y(d => P.y(d[1]));
const openCurve = (P) => d3.line().curve(d3.curveCatmullRom.alpha(0.5)).x(d => P.x(d[0])).y(d => P.y(d[1]));

const redHQ3vsHQ1 = [{t: "C"}, {t: "HQ", s: 46}, {t: "(3)", s: 38, up: 26}, {t: " vs ", s: 40}, {t: "C"},
  {t: "HQ", s: 46}, {t: "(1)", s: 38, up: 26}];
const yTitleHQ3 = [{t: "C", i: true}, supN("(3)"), stackSub("HQ"), {t: "/\u039B"}, supN("2"), {t: " [TeV"}, supN("\u22122"), {t: "]"}];

// C_HQ^(3) vs C_HQ^(1), quadratic
(() => {
  const c = {id: "q1", l: 105, r: 880, t: 761, b: 1364, xd: [-7.75, 9.87], yd: [-8.62, 11.79]};
  const P = panel2D(c), cl = closedCurve(P), op = openCurve(P);
  P.inner.append("path").attr("d", cl(chq3QuadObs95)).attr("fill", C95);
  P.inner.append("path").attr("d", cl(chq3QuadObs68)).attr("fill", C68);
  P.inner.append("path").attr("d", cl(chq3QuadExp68)).attr("fill", "none").attr("stroke", LINE).attr("stroke-width", 3);
  P.inner.append("path").attr("d", op(chq3QuadExp95)).attr("fill", "none").attr("stroke", LINE)
    .attr("stroke-width", 3).attr("stroke-dasharray", "11,7");
  diamond(P.inner, P.x(chq3QuadMode[0]), P.y(chq3QuadMode[1]), 6.3, 11.5);
  cross(P.inner, P.x(standardModel[0]), P.y(standardModel[1]), 7, "#fff", 2.6);
  finish2D(P, Object.assign(c, {xTicks: quadXTicks, xMinor: d3.range(-15, 20).map(i => i * 0.5),
    yTicks: chq3QuadYTicks, yMinor: d3.range(-17, 24).map(i => i * 0.5), yFmt: d3.format(".1f"),
    ytx: 32, yty: 764, ylen: 160, ytitle: yTitleHQ3, xtx: 877, xty: 1432, xlen: 163,
    hx: 145, hy: [817, 848, 880], hlen: [238, 274, 214],
    leg: {bx: 453, tx: 508, lx: 661, ltx: 716, rows: [798, 823, 848]},
    red: [{x: 122, y: 1270, size: 76, len: 418, segs: redHQ3vsHQ1},
          {x: 221, y: 1350, size: 64, len: 221, segs: [{t: "(quad.)"}]}]}));
})();

// C_HQ^(3) vs C_HQ^(1), linear
(() => {
  const c = {id: "l1", l: 990, r: 1771, t: 758, b: 1367, xd: [-12, 12], yd: [-19.6, 41.6]};
  const P = panel2D(c);
  const band = (lo, hi) => d3.area().curve(d3.curveMonotoneX)
    .x((d, i) => P.x(bandX[i])).y0((d, i) => P.y(lo[i])).y1((d, i) => P.y(hi[i]))(bandX);
  const ln = d3.line().curve(d3.curveMonotoneX).x(d => P.x(d[0])).y(d => P.y(d[1]));
  P.inner.append("path").attr("d", band(linObs95Lower, linObs95Upper)).attr("fill", C95);
  P.inner.append("path").attr("d", band(linObs68Lower, linObs68Upper)).attr("fill", C68);
  [linExp68Upper, linExp68Lower].forEach(a => P.inner.append("path").attr("d", ln(a))
    .attr("fill", "none").attr("stroke", LINE).attr("stroke-width", 3));
  [linExp95Upper, linExp95Lower].forEach(a => P.inner.append("path").attr("d", ln(a))
    .attr("fill", "none").attr("stroke", LINE).attr("stroke-width", 3).attr("stroke-dasharray", "11,7"));
  cross(P.inner, P.x(standardModel[0]), P.y(standardModel[1]), 7, "#000", 2.6);
  finish2D(P, Object.assign(c, {xTicks: linXTicks, xMinor: d3.range(-12, 13, 1),
    yTicks: chq3LinYTicks, yMinor: d3.range(-9, 21).map(i => i * 2), yFmt: d3.format("d"),
    ytx: 922, yty: 762, ylen: 162, ytitle: yTitleHQ3, xtx: 1769, xty: 1434, xlen: 164,
    hx: 1031, hy: [815, 846, 878], hlen: [241, 276, 215],
    leg: {bx: 1342, tx: 1396, lx: 1551, ltx: 1607, rows: [796, 821, 845]},
    red: [{x: 1341, y: 1270, size: 76, len: 418, segs: redHQ3vsHQ1},
          {x: 1437, y: 1346, size: 64, len: 226, segs: [{t: "(linear)"}]}]}));
})();

// Re[C_tG] vs C_HQ^(1), quadratic
(() => {
  const c = {id: "q2", l: 1907, r: 2711, t: 747, b: 1376, xd: [-7.77, 9.86], yd: [-0.833, 1.547]};
  const P = panel2D(c), cl = closedCurve(P), op = openCurve(P);
  P.inner.append("path").attr("d", cl(ctgObs95)).attr("fill", C95);
  P.inner.append("path").attr("d", cl(ctgObs68)).attr("fill", C68);
  P.inner.append("path").attr("d", cl(ctgExp68)).attr("fill", "none").attr("stroke", LINE).attr("stroke-width", 3);
  P.inner.append("path").attr("d", op(ctgExp95)).attr("fill", "none").attr("stroke", LINE)
    .attr("stroke-width", 3).attr("stroke-dasharray", "11,7");
  diamond(P.inner, P.x(ctgMode[0]), P.y(ctgMode[1]), 6.3, 11.5);
  cross(P.inner, P.x(standardModel[0]), P.y(standardModel[1]), 7, "#fff", 2.6);
  finish2D(P, Object.assign(c, {xTicks: quadXTicks, xMinor: d3.range(-15, 20).map(i => i * 0.5),
    yTicks: ctgYTicks, yMinor: d3.range(-8, 16).map(i => +(i * 0.1).toFixed(1)), yFmt: d3.format(".1f"),
    ytx: 1832, yty: 750, ylen: 193,
    ytitle: [{t: "\u211C["}, {t: "C", i: true}, sub("tG"), {t: "]/\u039B"}, supN("2"), {t: " [TeV"}, supN("\u22122"), {t: "]"}],
    xtx: 2709, xty: 1443, xlen: 167, hx: 1948, hy: [806, 834, 865], hlen: [249, 288, 223],
    leg: {bx: 2270, tx: 2326, lx: 2486, ltx: 2544, rows: [786, 811, 837]},
    red: [{x: 2348, y: 1270, size: 76, len: 337,
           segs: [{t: "C"}, {t: "tG", s: 46}, {t: " vs ", s: 40}, {t: "C"}, {t: "HQ", s: 46}, {t: "(1)", s: 38, up: 26}]},
          {x: 2405, y: 1348, size: 64, len: 222, segs: [{t: "(quad.)"}]}]}));
})();
</script></body></html>
